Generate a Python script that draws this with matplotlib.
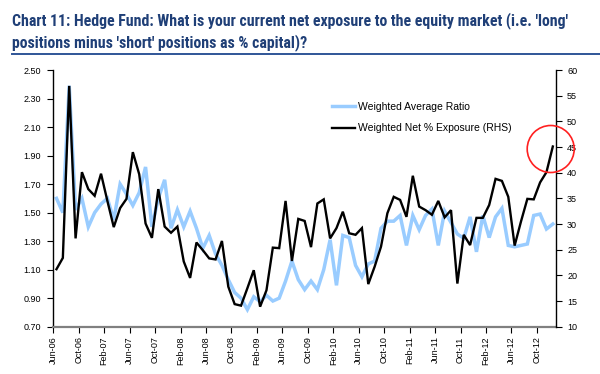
import matplotlib
matplotlib.use("Agg")
import matplotlib.pyplot as plt
from matplotlib.lines import Line2D
from matplotlib.patches import Circle
import numpy as np

plt.rcParams['font.family'] = ['Liberation Sans', 'DejaVu Sans']

tick_labels = ["Jun-06", "Oct-06", "Feb-07", "Jun-07", "Oct-07", "Feb-08", "Jun-08",
               "Oct-08", "Feb-09", "Jun-09", "Oct-09", "Feb-10", "Jun-10", "Oct-10",
               "Feb-11", "Jun-11", "Oct-11", "Feb-12", "Jun-12", "Oct-12"]

weighted_avg_ratio = [1.60, 1.50, 2.39, 1.52, 1.60, 1.40, 1.50, 1.56, 1.60, 1.45,
                      1.70, 1.63, 1.55, 1.64, 1.82, 1.40, 1.60, 1.73, 1.39, 1.52,
                      1.40, 1.51, 1.39, 1.25, 1.34, 1.21, 1.13, 1.03, 0.94, 0.90,
                      0.82, 0.91, 0.875, 0.92, 0.88, 0.90, 1.02, 1.16, 1.03, 0.96,
                      1.02, 0.96, 1.10, 1.31, 0.99, 1.34, 1.325, 1.13, 1.05, 1.14,
                      1.16, 1.39, 1.44, 1.44, 1.48, 1.27, 1.48, 1.38, 1.48, 1.525,
                      1.27, 1.51, 1.43, 1.35, 1.32, 1.47, 1.225, 1.48, 1.325, 1.47,
                      1.53, 1.27, 1.26, 1.27, 1.28, 1.48, 1.49, 1.385, 1.42]

weighted_net_exposure = [21.2, 23.4, 56.9, 27.2, 40.1, 36.8, 35.5, 39.8, 34.5, 29.4,
                         33.1, 34.9, 44.0, 39.7, 30.1, 27.3, 36.8, 29.5, 28.3, 29.5,
                         22.7, 19.5, 26.4, 24.9, 23.3, 23.1, 26.7, 17.8, 14.4, 14.1,
                         17.5, 21.0, 13.9, 17.1, 25.4, 25.3, 34.5, 22.8, 31.0, 30.6,
                         25.5, 34.0, 34.8, 27.2, 29.2, 32.4, 28.2, 27.9, 29.2, 18.3,
                         21.7, 25.6, 32.1, 35.3, 34.7, 31.4, 39.4, 33.4, 32.7, 31.8,
                         34.5, 31.3, 32.7, 18.4, 27.9, 25.9, 31.2, 31.2, 33.7, 38.8,
                         38.4, 35.3, 25.8, 30.5, 34.9, 34.8, 38.1, 40.1, 45.1]

n = len(weighted_avg_ratio)
x = np.arange(n) + 0.5

fig = plt.figure(figsize=(6, 3.74), dpi=100)
ax = fig.add_axes([53.3 / 600, (374 - 326.7) / 374, 502.7 / 600, 256.7 / 374])
ax2 = ax.twinx()

blue = '#99CCFF'
l1, = ax.plot(x, weighted_avg_ratio, color=blue, lw=2.5, solid_joinstyle='miter',
              label='Weighted Average Ratio')
l2, = ax2.plot(x, weighted_net_exposure, color='black', lw=1.7, solid_joinstyle='miter',
               label='Weighted Net % Exposure (RHS)')

ax.set_xlim(0, n)
ax.set_ylim(0.70, 2.50)
ax.set_yticks(np.arange(0.70, 2.501, 0.20))
ax.set_yticklabels([f"{v:.2f}" for v in np.arange(0.70, 2.501, 0.20)])
ax2.set_ylim(10, 60)
ax2.set_yticks(np.arange(10, 61, 5))

ax.set_xticks(np.arange(0, 4 * len(tick_labels), 4))
ax.set_xticklabels(tick_labels, rotation=90)

for a in (ax, ax2):
    a.spines['top'].set_visible(False)
ax2.spines['left'].set_visible(False)
ax2.spines['bottom'].set_visible(False)
ax.spines['right'].set_visible(False)
ax.spines['left'].set_color('black')
ax.spines['left'].set_linewidth(1.0)
ax2.spines['right'].set_color('black')
ax2.spines['right'].set_linewidth(1.0)
ax.spines['bottom'].set_color('#808080')
ax.spines['bottom'].set_linewidth(1.6)

ax.tick_params(axis='y', direction='out', length=4, width=0.8, pad=5, labelsize=6.5)
ax.tick_params(axis='x', direction='out', length=4, width=0.8, pad=3, labelsize=6.5,
               color='black')
ax2.tick_params(axis='y', direction='out', length=4, width=0.8, pad=4, labelsize=6.5)

leg = ax2.legend(handles=[l1, l2], loc='upper left',
                 bbox_to_anchor=((332 - 53.3) / 502.7, (326.7 - 102) / 256.7),
                 frameon=False, fontsize=7.5, handlelength=2.2, handletextpad=0.3,
                 labelspacing=1.1, borderpad=0, borderaxespad=0)

# title
title_color = '#1F3F77'
title_family = ['Roboto Condensed', 'DejaVu Sans']
fig.text(12 / 600, 1 - 21 / 374, "Chart 11: Hedge Fund: What is your current net exposure to the equity market (i.e. 'long'",
         family=title_family, fontstretch='condensed', weight='bold',
         fontsize=11.4, color=title_color, va='center', ha='left')
fig.text(12 / 600, 1 - 43 / 374, "positions minus 'short' positions as % capital)?",
         family=title_family, fontstretch='condensed', weight='bold',
         fontsize=11.4, color=title_color, va='center', ha='left')
fig.add_artist(Line2D([12 / 600, 1.0], [1 - 53.5 / 374] * 2, color='#2F5597', lw=1.4))

# red highlight circle
fig.add_artist(Circle((550.7 / 100, (374 - 149) / 100), 0.235, transform=fig.dpi_scale_trans,
                      fill=False, edgecolor='#FF2020', lw=1.2))

fig.savefig('out.png', dpi=100)
